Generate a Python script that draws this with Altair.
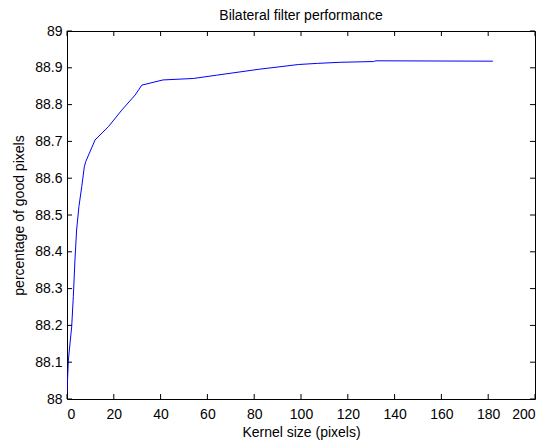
import altair as alt
import pandas as pd

# Data
kernel_size = [0, 0.6, 1.3, 2.0, 2.7, 3.4, 4.1, 5.1, 6.3, 7.4, 8.0, 12.0, 17.7, 23.4,
               29.1, 32, 41, 54, 64, 82, 99, 107, 117, 131, 132, 182]
good_pixels = [88.02, 88.106, 88.152, 88.196, 88.278, 88.378, 88.459, 88.523, 88.577,
               88.631, 88.645, 88.704, 88.740, 88.785, 88.826, 88.853, 88.867, 88.871,
               88.880, 88.896, 88.909, 88.912, 88.915, 88.917, 88.919, 88.918]

x_ticks = [0, 20, 40, 60, 80, 100, 120, 140, 160, 180, 200]
y_ticks = [88.0, 88.1, 88.2, 88.3, 88.4, 88.5, 88.6, 88.7, 88.8, 88.9, 89.0]

W, H = 468, 368
TICK = 5
FONT = "Liberation Sans"
FS = 14

df = pd.DataFrame({"k": kernel_size, "p": good_pixels})
xt = pd.DataFrame({"k": x_ticks})
yt = pd.DataFrame({"p": y_ticks})

xscale = alt.Scale(domain=[0, 200], nice=False, zero=False)
yscale = alt.Scale(domain=[88, 89], nice=False, zero=False)

xaxis = alt.Axis(values=x_ticks, title="Kernel size (pixels)", ticks=False,
                 domain=False, grid=False, labelPadding=8, titlePadding=4,
                 labelOverlap=False, format="~f")
yaxis = alt.Axis(values=y_ticks, title="percentage of good pixels", ticks=False,
                 domain=False, grid=False, labelPadding=5, titlePadding=8,
                 labelOverlap=False, format="~f")

line = alt.Chart(df).mark_line(color="#0000FF", strokeWidth=1, clip=True).encode(
    x=alt.X("k:Q", scale=xscale, axis=xaxis),
    y=alt.Y("p:Q", scale=yscale, axis=yaxis),
)

tick_style = dict(color="black", strokeWidth=1)
bottom_ticks = alt.Chart(xt).mark_rule(**tick_style).encode(
    x=alt.X("k:Q", scale=xscale, axis=xaxis), y=alt.value(H), y2=alt.value(H - TICK))
top_ticks = alt.Chart(xt).mark_rule(**tick_style).encode(
    x=alt.X("k:Q", scale=xscale, axis=xaxis), y=alt.value(0), y2=alt.value(TICK))
left_ticks = alt.Chart(yt).mark_rule(**tick_style).encode(
    y=alt.Y("p:Q", scale=yscale, axis=yaxis), x=alt.value(0), x2=alt.value(TICK))
right_ticks = alt.Chart(yt).mark_rule(**tick_style).encode(
    y=alt.Y("p:Q", scale=yscale, axis=yaxis), x=alt.value(W), x2=alt.value(W - TICK))

chart = alt.layer(line, bottom_ticks, top_ticks, left_ticks, right_ticks).properties(
    width=W, height=H,
    title=alt.TitleParams("Bilateral filter performance", font=FONT, fontSize=FS,
                          fontWeight="normal", color="black", offset=1),
    autosize=alt.AutoSizeParams(type="none"),
    padding={"left": 59, "top": 23, "right": 4, "bottom": 41},
    background="white",
).configure_view(
    stroke="black", strokeWidth=1
).configure_axis(
    labelFont=FONT, labelFontSize=FS, labelColor="black",
    titleFont=FONT, titleFontSize=FS, titleColor="black", titleFontWeight="normal",
    labelOverlap=False,
)

chart.save("out.html", embed_options={"renderer": "svg", "actions": False})
